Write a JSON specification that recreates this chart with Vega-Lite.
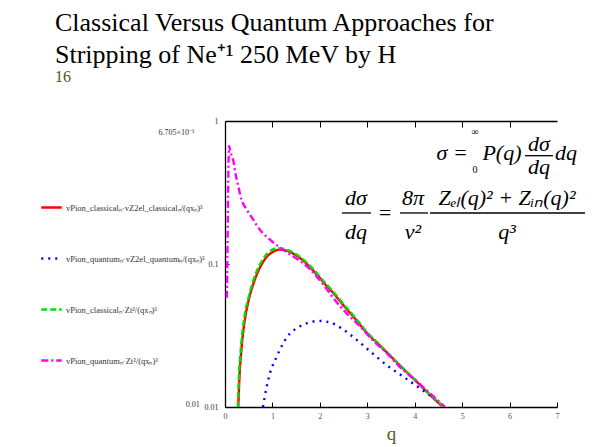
{
  "$schema": "https://vega.github.io/schema/vega-lite/v6.json",
  "width": 332,
  "height": 286,
  "autosize": "none",
  "padding": {"left": 225, "top": 121, "right": 45, "bottom": 40},
  "background": "white",
  "title": {
    "text": ["Classical Versus Quantum Approaches for", "Stripping of Ne⁺¹  250 MeV by H"],
    "subtitle": "16",
    "anchor": "start",
    "frame": "group",
    "dx": -170,
    "offset": 32,
    "font": "Liberation Serif",
    "fontSize": 26,
    "fontWeight": "normal",
    "color": "#000000",
    "lineHeight": 32,
    "subtitleFont": "Liberation Serif",
    "subtitleFontSize": 16,
    "subtitleColor": "#55531a",
    "subtitlePadding": 1
  },
  "config": {
    "view": {"stroke": null},
    "legend": {
      "orient": "none",
      "legendX": -185,
      "legendY": 75,
      "symbolType": "stroke",
      "symbolSize": 420,
      "symbolStrokeWidth": 2.5,
      "labelFont": "Liberation Serif",
      "labelFontSize": 8.5,
      "labelColor": "#333333",
      "rowPadding": 34,
      "labelLimit": 250,
      "labelOffset": 3
    }
  },
  "layer": [
    {
      "data": {
        "values": [
          {"series": "c_el", "q": 0.28, "v": 0.0100},
          {"series": "c_el", "q": 0.30, "v": 0.0150},
          {"series": "c_el", "q": 0.35, "v": 0.026},
          {"series": "c_el", "q": 0.42, "v": 0.041},
          {"series": "c_el", "q": 0.5, "v": 0.056},
          {"series": "c_el", "q": 0.6, "v": 0.073},
          {"series": "c_el", "q": 0.7, "v": 0.089},
          {"series": "c_el", "q": 0.8, "v": 0.103},
          {"series": "c_el", "q": 0.9, "v": 0.114},
          {"series": "c_el", "q": 1.0, "v": 0.121},
          {"series": "c_el", "q": 1.15, "v": 0.126},
          {"series": "c_el", "q": 1.3, "v": 0.124},
          {"series": "c_el", "q": 1.5, "v": 0.115},
          {"series": "c_el", "q": 1.7, "v": 0.102},
          {"series": "c_el", "q": 1.9, "v": 0.087},
          {"series": "c_el", "q": 2.1, "v": 0.073},
          {"series": "c_el", "q": 2.3, "v": 0.0617},
          {"series": "c_el", "q": 2.5, "v": 0.0513},
          {"series": "c_el", "q": 2.75, "v": 0.0412},
          {"series": "c_el", "q": 3.0, "v": 0.0327},
          {"series": "c_el", "q": 3.25, "v": 0.0272},
          {"series": "c_el", "q": 3.5, "v": 0.0225},
          {"series": "c_el", "q": 3.75, "v": 0.0186},
          {"series": "c_el", "q": 4.0, "v": 0.0155},
          {"series": "c_el", "q": 4.25, "v": 0.0128},
          {"series": "c_el", "q": 4.5, "v": 0.0107},
          {"series": "c_el", "q": 4.6, "v": 0.0100},

          {"series": "q_el", "q": 0.8, "v": 0.0100},
          {"series": "q_el", "q": 0.88, "v": 0.0139},
          {"series": "q_el", "q": 0.95, "v": 0.0173},
          {"series": "q_el", "q": 1.09, "v": 0.0225},
          {"series": "q_el", "q": 1.23, "v": 0.028},
          {"series": "q_el", "q": 1.37, "v": 0.0327},
          {"series": "q_el", "q": 1.51, "v": 0.0355},
          {"series": "q_el", "q": 1.72, "v": 0.0385},
          {"series": "q_el", "q": 1.97, "v": 0.0400},
          {"series": "q_el", "q": 2.22, "v": 0.039},
          {"series": "q_el", "q": 2.5, "v": 0.0347},
          {"series": "q_el", "q": 2.78, "v": 0.0294},
          {"series": "q_el", "q": 3.06, "v": 0.0245},
          {"series": "q_el", "q": 3.41, "v": 0.0196},
          {"series": "q_el", "q": 3.76, "v": 0.0163},
          {"series": "q_el", "q": 4.11, "v": 0.0135},
          {"series": "q_el", "q": 4.47, "v": 0.011},
          {"series": "q_el", "q": 4.6, "v": 0.0100},

          {"series": "c_zt", "q": 0.27, "v": 0.0100},
          {"series": "c_zt", "q": 0.29, "v": 0.0155},
          {"series": "c_zt", "q": 0.34, "v": 0.027},
          {"series": "c_zt", "q": 0.41, "v": 0.043},
          {"series": "c_zt", "q": 0.5, "v": 0.059},
          {"series": "c_zt", "q": 0.6, "v": 0.077},
          {"series": "c_zt", "q": 0.7, "v": 0.094},
          {"series": "c_zt", "q": 0.8, "v": 0.108},
          {"series": "c_zt", "q": 0.9, "v": 0.119},
          {"series": "c_zt", "q": 1.0, "v": 0.126},
          {"series": "c_zt", "q": 1.12, "v": 0.129},
          {"series": "c_zt", "q": 1.3, "v": 0.126},
          {"series": "c_zt", "q": 1.5, "v": 0.117},
          {"series": "c_zt", "q": 1.7, "v": 0.104},
          {"series": "c_zt", "q": 1.9, "v": 0.089},
          {"series": "c_zt", "q": 2.1, "v": 0.0745},
          {"series": "c_zt", "q": 2.3, "v": 0.063},
          {"series": "c_zt", "q": 2.5, "v": 0.0523},
          {"series": "c_zt", "q": 2.75, "v": 0.042},
          {"series": "c_zt", "q": 3.0, "v": 0.0332},
          {"series": "c_zt", "q": 3.25, "v": 0.0274},
          {"series": "c_zt", "q": 3.5, "v": 0.0226},
          {"series": "c_zt", "q": 3.75, "v": 0.0187},
          {"series": "c_zt", "q": 4.0, "v": 0.0156},
          {"series": "c_zt", "q": 4.25, "v": 0.0129},
          {"series": "c_zt", "q": 4.5, "v": 0.0108},
          {"series": "c_zt", "q": 4.62, "v": 0.0100},

          {"series": "q_zt", "q": 0.04, "v": 0.058},
          {"series": "q_zt", "q": 0.05, "v": 0.11},
          {"series": "q_zt", "q": 0.06, "v": 0.22},
          {"series": "q_zt", "q": 0.07, "v": 0.42},
          {"series": "q_zt", "q": 0.085, "v": 0.6705},
          {"series": "q_zt", "q": 0.11, "v": 0.62},
          {"series": "q_zt", "q": 0.14, "v": 0.57},
          {"series": "q_zt", "q": 0.175, "v": 0.53},
          {"series": "q_zt", "q": 0.21, "v": 0.45},
          {"series": "q_zt", "q": 0.28, "v": 0.35},
          {"series": "q_zt", "q": 0.35, "v": 0.28},
          {"series": "q_zt", "q": 0.46, "v": 0.24},
          {"series": "q_zt", "q": 0.6, "v": 0.203},
          {"series": "q_zt", "q": 0.74, "v": 0.173},
          {"series": "q_zt", "q": 0.88, "v": 0.155},
          {"series": "q_zt", "q": 1.0, "v": 0.143},
          {"series": "q_zt", "q": 1.16, "v": 0.13},
          {"series": "q_zt", "q": 1.3, "v": 0.121},
          {"series": "q_zt", "q": 1.44, "v": 0.113},
          {"series": "q_zt", "q": 1.6, "v": 0.104},
          {"series": "q_zt", "q": 1.79, "v": 0.092},
          {"series": "q_zt", "q": 2.0, "v": 0.077},
          {"series": "q_zt", "q": 2.14, "v": 0.067},
          {"series": "q_zt", "q": 2.28, "v": 0.058},
          {"series": "q_zt", "q": 2.57, "v": 0.045},
          {"series": "q_zt", "q": 2.8, "v": 0.038},
          {"series": "q_zt", "q": 3.13, "v": 0.029},
          {"series": "q_zt", "q": 3.4, "v": 0.024},
          {"series": "q_zt", "q": 3.69, "v": 0.019},
          {"series": "q_zt", "q": 4.0, "v": 0.0155},
          {"series": "q_zt", "q": 4.32, "v": 0.0125},
          {"series": "q_zt", "q": 4.64, "v": 0.0100}
        ]
      },
      "mark": {"type": "line", "clip": true, "strokeWidth": 2.4, "interpolate": "monotone"},
      "encoding": {
        "x": {
          "field": "q", "type": "quantitative",
          "scale": {"domain": [0, 7], "nice": false, "zero": false},
          "axis": {
            "orient": "bottom", "values": [0, 1, 2, 3, 4, 5, 6, 7], "format": "d",
            "tickSize": -5, "labelPadding": 10, "labelFlush": false,
            "labelFont": "Liberation Serif", "labelFontSize": 8, "labelColor": "#555555",
            "domainColor": "#000000", "tickColor": "#000000", "domainWidth": 1.3, "grid": false,
            "title": "q", "titleFont": "Liberation Serif", "titleFontSize": 19,
            "titleFontWeight": "normal", "titleColor": "#5a5820", "titlePadding": 4
          }
        },
        "y": {
          "field": "v", "type": "quantitative",
          "scale": {"type": "log", "domain": [0.01, 1], "nice": false},
          "axis": {
            "orient": "left", "values": [0.01, 0.1, 1], "format": "~g",
            "tickSize": -4, "labelPadding": 11, "labelFlush": false, "labelOverlap": false,
            "labelFont": "Liberation Serif", "labelFontSize": 8, "labelColor": "#333333",
            "domainColor": "#000000", "tickColor": "#000000", "domainWidth": 1.3, "grid": false,
            "title": "6.705×10⁻¹", "titleAngle": 0, "titleX": -49, "titleY": 11,
            "titleAlign": "center", "titleBaseline": "middle",
            "titleFont": "Liberation Serif", "titleFontSize": 8, "titleFontWeight": "normal",
            "titleColor": "#333333"
          }
        },
        "color": {
          "field": "series", "type": "nominal",
          "scale": {"domain": ["c_el", "q_el", "c_zt", "q_zt"], "range": ["#ff0000", "#0000ff", "#00e000", "#ff00ff"]},
          "legend": {"title": null, "labelExpr": "{'c_el': 'vPion_classicalₙ·vZ2el_classicalₙ/(qxₙ)³', 'q_el': 'vPion_quantumₙ·vZ2el_quantumₙ/(qxₙ)³', 'c_zt': 'vPion_classicalₙ·Zt²/(qxₙ)³', 'q_zt': 'vPion_quantumₙ·Zt²/(qxₙ)³'}[datum.label]"}
        },
        "strokeDash": {
          "field": "series", "type": "nominal",
          "scale": {"domain": ["c_el", "q_el", "c_zt", "q_zt"], "range": [[1, 0], [2, 5], [6, 3], [7, 3, 2, 3]]},
          "legend": {"title": null, "labelExpr": "{'c_el': 'vPion_classicalₙ·vZ2el_classicalₙ/(qxₙ)³', 'q_el': 'vPion_quantumₙ·vZ2el_quantumₙ/(qxₙ)³', 'c_zt': 'vPion_classicalₙ·Zt²/(qxₙ)³', 'q_zt': 'vPion_quantumₙ·Zt²/(qxₙ)³'}[datum.label]"}
        }
      }
    },
    {
      "mark": {"type": "rule", "color": "#000000", "strokeWidth": 1.3},
      "encoding": {
        "x": {
          "datum": 7, "type": "quantitative",
          "scale": {"domain": [0, 7], "nice": false, "zero": false},
          "axis": {
            "orient": "top", "values": [1, 2, 3, 4, 5, 6], "tickSize": -6, "labels": false,
            "title": null, "domainColor": "#000000", "tickColor": "#000000", "domainWidth": 1.3, "grid": false
          }
        },
        "y": {"datum": 0.01, "type": "quantitative", "scale": {"type": "log", "domain": [0.01, 1], "nice": false}},
        "y2": {"datum": 0.13}
      }
    },
    {
      "mark": {"type": "rule", "color": "#000000", "strokeWidth": 1},
      "encoding": {
        "x": {"datum": 6.9, "type": "quantitative", "axis": null},
        "x2": {"datum": 7},
        "y": {"datum": 0.1, "type": "quantitative"}
      }
    },
    {
      "data": {
        "values": [
          {"t": "σ =", "q": 4.79, "v": 0.597},
          {"t": "P(q)", "q": 5.84, "v": 0.597},
          {"t": "dσ", "q": 6.62, "v": 0.69},
          {"t": "dq", "q": 6.62, "v": 0.475},
          {"t": "dq", "q": 7.19, "v": 0.597},
          {"t": "dσ", "q": 2.76, "v": 0.2895},
          {"t": "dq", "q": 2.76, "v": 0.1675},
          {"t": "=", "q": 3.373, "v": 0.2274},
          {"t": "8π", "q": 3.964, "v": 0.2895},
          {"t": "v²", "q": 3.964, "v": 0.1675},
          {"t": "Zₑₗ(q)² + Zᵢₙ(q)²", "q": 5.945, "v": 0.2895},
          {"t": "q³", "q": 5.945, "v": 0.1675}
        ]
      },
      "mark": {"type": "text", "font": "Liberation Serif", "fontSize": 22, "fontStyle": "italic", "align": "center", "baseline": "middle", "color": "#000000"},
      "encoding": {
        "x": {"field": "q", "type": "quantitative", "axis": null},
        "y": {"field": "v", "type": "quantitative"},
        "text": {"field": "t"}
      }
    },
    {
      "mark": {"type": "text", "font": "Liberation Serif", "fontSize": 34, "align": "center", "baseline": "middle", "color": "#000000", "text": "∫"},
      "encoding": {
        "x": {"datum": 5.29, "type": "quantitative", "axis": null},
        "y": {"datum": 0.647, "type": "quantitative"}
      }
    },
    {
      "data": {"values": [{"t": "∞", "q": 5.27, "v": 0.838}, {"t": "0", "q": 5.27, "v": 0.454}]},
      "mark": {"type": "text", "font": "Liberation Serif", "fontSize": 10, "align": "center", "baseline": "middle", "color": "#000000"},
      "encoding": {
        "x": {"field": "q", "type": "quantitative", "axis": null},
        "y": {"field": "v", "type": "quantitative"},
        "text": {"field": "t"}
      }
    },
    {
      "data": {
        "values": [
          {"q": 6.325, "q2": 6.915, "v": 0.572},
          {"q": 2.467, "q2": 3.078, "v": 0.2274},
          {"q": 3.69, "q2": 4.28, "v": 0.2274},
          {"q": 4.322, "q2": 7.59, "v": 0.2274}
        ]
      },
      "mark": {"type": "rule", "color": "#000000", "strokeWidth": 1.3},
      "encoding": {
        "x": {"field": "q", "type": "quantitative", "axis": null},
        "x2": {"field": "q2"},
        "y": {"field": "v", "type": "quantitative"}
      }
    },
    {
      "data": {"values": [{"t": "0.01", "q": -0.53, "v": 0.0103}]},
      "mark": {"type": "text", "font": "Liberation Serif", "fontSize": 8, "align": "right", "baseline": "middle", "color": "#333333"},
      "encoding": {
        "x": {"field": "q", "type": "quantitative", "axis": null},
        "y": {"field": "v", "type": "quantitative"},
        "text": {"field": "t"}
      }
    }
  ]
}
